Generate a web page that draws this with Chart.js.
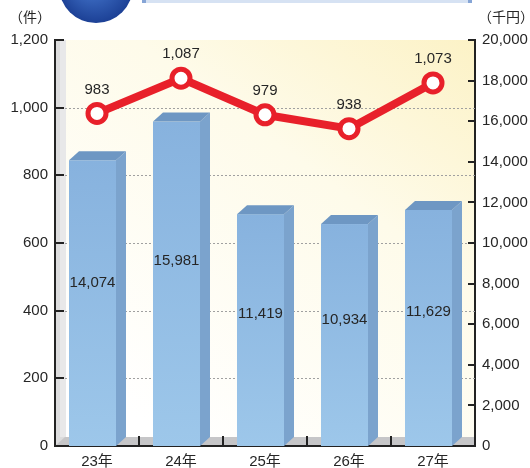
<!DOCTYPE html>
<html lang="ja">

<head>
  <meta charset="UTF-8">
  <title>件数と金額の推移</title>
  <script src="https://cdn.jsdelivr.net/npm/chart.js"></script>
  <style>
    body { margin: 0; background: #fff; }
    canvas { display: block; }
  </style>
</head>

<body>
  <canvas id="chart" width="530" height="468"></canvas>

  <script>
    // 年度ごとの件数（左軸）と金額（右軸）
    const years = ['23年', '24年', '25年', '26年', '27年'];
    const cases = [983, 1087, 979, 938, 1073];
    const amounts = [14074, 15981, 11419, 10934, 11629];

    const caseMax = 1200, caseStep = 200;
    const amountMax = 20000, amountStep = 2000;

    const FONT = "'Liberation Sans', 'Noto Sans CJK JP', sans-serif";
    const TEXT = '#262626';
    const fmt = v => Number(v).toLocaleString('en-US');

    const DX = 10, DY = 9;   // 奥行き
    const SHIFT = -4.5;      // 正面の位置ずれ

    // 背景・壁・床・見出し
    const backdrop = {
      id: 'backdrop',
      beforeDraw(chart) {
        const { ctx, chartArea: a } = chart;
        ctx.save();
        // ヘッダーの飾り
        const g0 = ctx.createRadialGradient(90, -24, 4, 96, -14, 38);
        g0.addColorStop(0, '#4b7fd6');
        g0.addColorStop(1, '#1b3f94');
        ctx.fillStyle = g0;
        ctx.beginPath();
        ctx.arc(96, -14, 37, 0, Math.PI * 2);
        ctx.fill();
        ctx.fillStyle = '#d6e2f3';
        ctx.fillRect(143, 0, 329, 3);
        ctx.fillStyle = '#86a5d6';
        ctx.fillRect(142, 0, 4, 3);
        ctx.fillRect(468, 0, 4, 3);

        // プロット背景
        const g = ctx.createLinearGradient(a.right, a.top, a.left + 120, a.bottom);
        g.addColorStop(0, '#fcf2c6');
        g.addColorStop(0.4, '#fefbea');
        g.addColorStop(1, '#ffffff');
        ctx.fillStyle = g;
        ctx.fillRect(a.left + DX, a.top, a.right - a.left - DX, a.bottom - a.top);

        // 左の壁
        ctx.fillStyle = '#dcdcdd';
        ctx.fillRect(a.left, a.top, DX + 1, a.bottom - a.top);
        ctx.fillStyle = '#e8e8e9';
        ctx.fillRect(a.left + 5, a.top, DX - 4, a.bottom - a.top - DY);

        // 床
        ctx.fillStyle = '#c6c6c8';
        ctx.beginPath();
        ctx.moveTo(a.left, a.bottom);
        ctx.lineTo(a.left + DX, a.bottom - DY);
        ctx.lineTo(a.right, a.bottom - DY);
        ctx.lineTo(a.right, a.bottom);
        ctx.closePath();
        ctx.fill();

        // 単位
        ctx.fillStyle = TEXT;
        ctx.font = "14px 'Noto Sans CJK JP', sans-serif";
        ctx.textAlign = 'center';
        ctx.textBaseline = 'middle';
        ctx.fillText('（件）', 30, 17);
        ctx.fillText('（千円）', 506, 17);
        ctx.restore();
      },
      beforeDatasetsDraw(chart) {
        // 点線の目盛線（左軸）
        const { ctx, chartArea: a, scales } = chart;
        ctx.save();
        ctx.strokeStyle = '#a0a0a0';
        ctx.lineWidth = 1;
        ctx.setLineDash([2, 2]);
        scales.y.ticks.forEach(t => {
          if (t.value === 0 || t.value === caseMax) return;
          const y = Math.round(scales.y.getPixelForValue(t.value)) + 0.5;
          ctx.beginPath();
          ctx.moveTo(a.left + DX, y);
          ctx.lineTo(a.right, y);
          ctx.stroke();
        });
        ctx.restore();
      }
    };

    // 立体の棒
    const bars3d = {
      id: 'bars3d',
      afterDatasetDraw(chart, args) {
        if (args.index !== 1) return;
        const { ctx } = chart;
        ctx.save();
        args.meta.data.forEach(el => {
          const w = el.width;
          const xl = el.x + SHIFT - w / 2, xr = el.x + SHIFT + w / 2;
          const top = el.y, base = el.base;
          const g = ctx.createLinearGradient(0, top, 0, base);
          g.addColorStop(0, '#87b2de');
          g.addColorStop(1, '#9dc7ea');
          ctx.fillStyle = g;
          ctx.fillRect(xl, top, w, base - top);
          // 側面
          ctx.fillStyle = '#7ba3cd';
          ctx.beginPath();
          ctx.moveTo(xr, top);
          ctx.lineTo(xr + DX, top - DY);
          ctx.lineTo(xr + DX, base - DY);
          ctx.lineTo(xr, base);
          ctx.closePath();
          ctx.fill();
          // 上面
          ctx.fillStyle = '#6e97c3';
          ctx.beginPath();
          ctx.moveTo(xl, top);
          ctx.lineTo(xl + DX, top - DY);
          ctx.lineTo(xr + DX, top - DY);
          ctx.lineTo(xr, top);
          ctx.closePath();
          ctx.fill();
        });
        ctx.restore();
      },
      afterDatasetsDraw(chart) {
        const { ctx } = chart;
        ctx.save();
        ctx.fillStyle = TEXT;
        ctx.font = '15px ' + FONT;
        ctx.textAlign = 'center';
        ctx.textBaseline = 'middle';
        chart.getDatasetMeta(1).data.forEach((el, i) => {
          const y = el.base - (el.base - el.y) * 0.57;
          ctx.fillText(fmt(amounts[i]), el.x + SHIFT, y);
        });
        chart.getDatasetMeta(0).data.forEach((el, i) => {
          ctx.fillText(fmt(cases[i]), el.x, el.y - 24);
        });
        ctx.restore();
      }
    };

    // 内向きの目盛
    const innerTicks = {
      id: 'innerTicks',
      afterDraw(chart) {
        const { ctx, chartArea: a, scales } = chart;
        ctx.save();
        ctx.strokeStyle = '#222';
        ctx.lineWidth = 2;
        ctx.beginPath();
        scales.y.ticks.forEach(t => {
          const y = Math.round(scales.y.getPixelForValue(t.value));
          ctx.moveTo(a.left, y);
          ctx.lineTo(a.left + 9, y);
        });
        scales.y2.ticks.forEach(t => {
          const y = Math.round(scales.y2.getPixelForValue(t.value));
          ctx.moveTo(a.right, y);
          ctx.lineTo(a.right - 7, y);
        });
        for (let i = 1; i < years.length; i++) {
          const x = Math.round((scales.x.getPixelForValue(i - 1) + scales.x.getPixelForValue(i)) / 2);
          ctx.moveTo(x, a.bottom);
          ctx.lineTo(x, a.bottom - 10);
        }
        ctx.stroke();
        ctx.restore();
      }
    };

    const tickFont = { family: FONT, size: 15 };

    new Chart(document.getElementById('chart'), {
      data: {
        labels: years,
        datasets: [
          {
            type: 'line',
            label: '件数',
            data: cases,
            yAxisID: 'y',
            order: 0,
            borderColor: '#e8202a',
            borderWidth: 8,
            pointRadius: 9,
            pointBorderWidth: 5,
            pointBackgroundColor: '#fff',
            pointBorderColor: '#e8202a',
            tension: 0,
            clip: false
          },
          {
            type: 'bar',
            label: '金額',
            data: amounts,
            yAxisID: 'y2',
            order: 1,
            barThickness: 47,
            backgroundColor: 'rgba(0,0,0,0)'
          }
        ]
      },
      options: {
        responsive: false,
        animation: false,
        layout: { padding: { top: 40, left: 0, right: 0, bottom: 0 } },
        plugins: { legend: { display: false }, tooltip: { enabled: false } },
        scales: {
          x: {
            offset: true,
            grid: { display: false, drawTicks: false },
            border: { display: true, color: '#222', width: 2 },
            ticks: { color: TEXT, font: tickFont, padding: 7 },
            afterFit: s => { s.height = 22; }
          },
          y: {
            position: 'left',
            min: 0,
            max: caseMax,
            grid: { display: false, drawTicks: false },
            border: { display: true, color: '#222', width: 2 },
            ticks: { stepSize: caseStep, color: TEXT, font: tickFont, padding: 7, callback: fmt },
            afterFit: s => { s.width = 55; }
          },
          y2: {
            position: 'right',
            min: 0,
            max: amountMax,
            grid: { display: false, drawTicks: false },
            border: { display: true, color: '#222', width: 2 },
            ticks: { stepSize: amountStep, color: TEXT, font: tickFont, padding: 7, callback: fmt },
            afterFit: s => { s.width = 55; }
          }
        }
      },
      plugins: [backdrop, bars3d, innerTicks]
    });
  </script>
</body>

</html>
